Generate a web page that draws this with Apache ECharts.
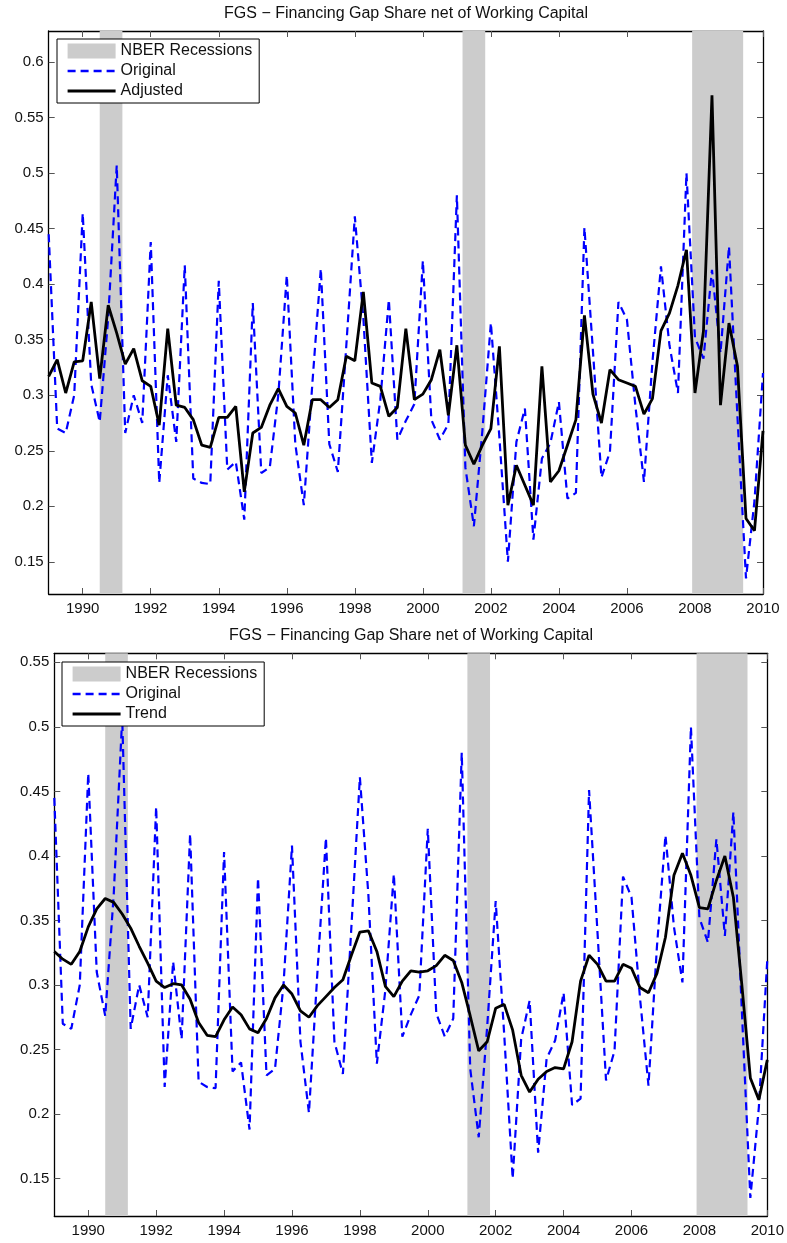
<!DOCTYPE html>
<html>
<head>
<meta charset="utf-8">
<script src="https://cdn.jsdelivr.net/npm/echarts@6/dist/echarts.min.js"></script>
<style>
html,body{margin:0;padding:0;background:#fff;}
#chart{width:787px;height:1243px;}
</style>
</head>
<body>
<div id="chart"></div>
<script>
// ---- data (quarterly, starting 1989 Q1) ----
const startYear = 1989;
const titleText = 'FGS \u2212 Financing Gap Share net of Working Capital';
const original = [
 0.445,0.270,0.266,0.300, 0.464,0.310,0.276,0.370, 0.507,0.266,0.300,0.275,
 0.438,0.221,0.318,0.258, 0.417,0.225,0.221,0.220, 0.403,0.233,0.240,0.188,
 0.383,0.230,0.235,0.300, 0.408,0.256,0.201,0.310, 0.414,0.256,0.231,0.345,
 0.461,0.370,0.239,0.296, 0.386,0.260,0.277,0.292, 0.421,0.278,0.260,0.274,
 0.480,0.235,0.182,0.268, 0.365,0.262,0.150,0.258, 0.288,0.170,0.243,0.257,
 0.294,0.207,0.212,0.451, 0.340,0.226,0.249,0.384, 0.368,0.290,0.222,0.330,
 0.416,0.345,0.302,0.500, 0.352,0.333,0.413,0.338, 0.434,0.280,0.135,0.205,
 0.320
];
const adjusted = [
 0.317,0.332,0.302,0.330, 0.331,0.384,0.315,0.381, 0.356,0.328,0.342,0.313,
 0.308,0.273,0.360,0.291, 0.289,0.278,0.255,0.253, 0.280,0.280,0.290,0.213,
 0.266,0.271,0.291,0.306, 0.290,0.284,0.255,0.296, 0.296,0.289,0.296,0.335,
 0.331,0.393,0.311,0.308, 0.281,0.289,0.360,0.296, 0.301,0.314,0.341,0.282,
 0.345,0.255,0.238,0.255, 0.270,0.344,0.201,0.237, 0.219,0.201,0.326,0.222,
 0.232,0.255,0.278,0.372, 0.301,0.275,0.323,0.314, 0.311,0.308,0.283,0.297,
 0.358,0.374,0.399,0.431, 0.302,0.358,0.570,0.291, 0.365,0.326,0.189,0.178,
 0.268
];
const trend = [
 0.326,0.320,0.316,0.326, 0.345,0.359,0.367,0.364, 0.355,0.344,0.330,0.317,
 0.303,0.298,0.301,0.300, 0.289,0.271,0.261,0.260, 0.273,0.283,0.277,0.266,
 0.263,0.274,0.290,0.300, 0.293,0.280,0.275,0.284, 0.291,0.298,0.304,0.323,
 0.341,0.342,0.326,0.299, 0.291,0.303,0.311,0.310, 0.311,0.315,0.323,0.319,
 0.302,0.276,0.249,0.256, 0.282,0.285,0.265,0.230, 0.217,0.227,0.233,0.236,
 0.235,0.256,0.303,0.323, 0.316,0.303,0.303,0.316, 0.313,0.298,0.294,0.309,
 0.337,0.385,0.402,0.385, 0.360,0.359,0.381,0.400, 0.368,0.300,0.228,0.211,
 0.242
];
const recessions = [[1990.5, 1991.1667], [2001.1667, 2001.8333], [2007.9167, 2009.4167]];
const xTicks = [1990,1992,1994,1996,1998,2000,2002,2004,2006,2008,2010];
const yTicksTop = [0.15,0.2,0.25,0.3,0.35,0.4,0.45,0.5,0.55,0.6];
const yTicksBottom = [0.15,0.2,0.25,0.3,0.35,0.4,0.45,0.5,0.55];

// ---- build ----
const FONT = '"Liberation Sans", Arial, Helvetica, sans-serif';
const toPairs = arr => arr.map((v, i) => [startYear + i / 4, v]);

const grids = [
  {left: 48.7, top: 31, width: 714.3, height: 563},
  {left: 54.3, top: 653.3, width: 714, height: 562.7}
];
const yRanges = [[0.121, 0.628], [0.121, 0.557]];
const yTickSets = [yTicksTop, yTicksBottom];

const xAxes = [], yAxes = [];
grids.forEach((g, gi) => {
  ['bottom', 'top'].forEach(pos => {
    xAxes.push({
      type: 'value', gridIndex: gi, position: pos, min: 1989, max: 2010,
      axisLine: {show: true, onZero: false, lineStyle: {color: '#000', width: 1.3}},
      axisTick: {show: true, inside: true, length: 6, customValues: xTicks, lineStyle: {color: '#555', width: 1}},
      axisLabel: {show: pos === 'bottom', customValues: xTicks, fontSize: 15, color: '#111', fontFamily: FONT, margin: 7,
        formatter: v => String(Math.round(v))},
      splitLine: {show: false}
    });
  });
  ['left', 'right'].forEach(pos => {
    yAxes.push({
      type: 'value', gridIndex: gi, position: pos, min: yRanges[gi][0], max: yRanges[gi][1],
      axisLine: {show: true, onZero: false, lineStyle: {color: '#000', width: 1.3}},
      axisTick: {show: true, inside: true, length: 6, customValues: yTickSets[gi], lineStyle: {color: '#555', width: 1}},
      axisLabel: {show: pos === 'left', customValues: yTickSets[gi], fontSize: 15, color: '#111', fontFamily: FONT, margin: 5,
        formatter: v => String(+Number(v).toFixed(2))},
      splitLine: {show: false}
    });
  });
});

function recessionSeries(gi) {
  return {
    type: 'custom', name: 'NBER Recessions', xAxisIndex: gi * 2, yAxisIndex: gi * 2,
    data: recessions, encode: {x: [0, 1]}, z: 1, silent: true,
    itemStyle: {color: '#cccccc'},
    renderItem: (params, api) => {
      const cs = params.coordSys;
      const a = api.coord([api.value(0), yRanges[gi][0]]);
      const b = api.coord([api.value(1), yRanges[gi][0]]);
      return {type: 'rect', shape: {x: a[0], y: cs.y, width: b[0] - a[0], height: cs.height},
              style: {fill: '#cccccc'}};
    }
  };
}
function lineSeries(gi, name, arr, color, width, dash, z) {
  return {
    type: 'line', name, xAxisIndex: gi * 2, yAxisIndex: gi * 2, data: toPairs(arr),
    symbol: 'none', showSymbol: false, z, silent: true,
    lineStyle: {color, width, type: dash},
    itemStyle: {color}
  };
}

const series = [
  recessionSeries(0),
  lineSeries(0, 'Original', original, '#0000ff', 2.2, [8, 5], 3),
  lineSeries(0, 'Adjusted', adjusted, '#000000', 2.8, 'solid', 4),
  recessionSeries(1),
  lineSeries(1, 'Original', original, '#0000ff', 2.2, [8, 5], 3),
  lineSeries(1, 'Trend', trend, '#000000', 2.8, 'solid', 4)
];

const hiddenSymbol = {color: 'rgba(0,0,0,0)', borderColor: 'rgba(0,0,0,0)', borderWidth: 0, opacity: 0};
function legendAt(left, top, names) {
  return {
    orient: 'vertical', left, top, selectedMode: false,
    backgroundColor: '#fff', borderColor: '#000', borderWidth: 1,
    padding: [4, 7, 4, 9], itemWidth: 48, itemHeight: 15, itemGap: 4,
    textStyle: {fontSize: 16, color: '#111', fontFamily: FONT, lineHeight: 16},
    z: 10,
    data: [
      {name: names[0], icon: 'rect', itemStyle: {color: '#cccccc'}},
      {name: names[1], itemStyle: hiddenSymbol, lineStyle: {color: '#0000ff', width: 2.5, type: [8, 5]}},
      {name: names[2], itemStyle: hiddenSymbol, lineStyle: {color: '#000000', width: 3.2, type: 'solid'}}
    ]
  };
}

const option = {
  animation: false,
  backgroundColor: '#fff',
  grid: grids,
  xAxis: xAxes,
  yAxis: yAxes,
  legend: [
    legendAt(57, 39, ['NBER Recessions', 'Original', 'Adjusted']),
    legendAt(62, 662, ['NBER Recessions', 'Original', 'Trend'])
  ],
  graphic: [
    {type: 'text', x: 406, y: 14, style: {text: titleText, fontSize: 16, fontFamily: FONT, fill: '#111', align: 'center', verticalAlign: 'middle'}},
    {type: 'text', x: 411, y: 636, style: {text: titleText, fontSize: 16, fontFamily: FONT, fill: '#111', align: 'center', verticalAlign: 'middle'}}
  ],
  series
};

const chart = echarts.init(document.getElementById('chart'), null, {renderer: 'canvas'});
chart.setOption(option);
</script>
</body>
</html>
